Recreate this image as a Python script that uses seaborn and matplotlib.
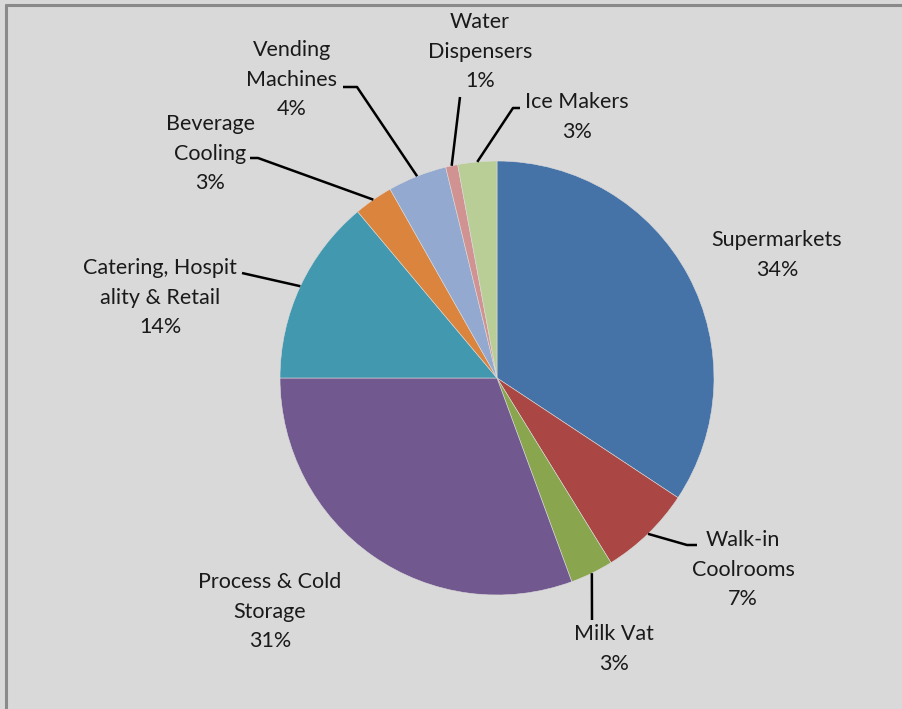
import matplotlib
matplotlib.use("Agg")
import matplotlib.pyplot as plt
import seaborn as sns
import numpy as np

categories = ["Supermarkets", "Walk-in\nCoolrooms", "Milk Vat", "Process & Cold\nStorage",
              "Catering, Hospit\nality & Retail", "Beverage\nCooling", "Vending\nMachines",
              "Water\nDispensers", "Ice Makers"]
values = [34.3, 6.9, 3.2, 30.6, 13.9, 2.9, 4.4, 0.9, 2.9]
pct_labels = ["34%", "7%", "3%", "31%", "14%", "3%", "4%", "1%", "3%"]
colors = ["#4572A7", "#AA4643", "#89A54E", "#71588F", "#4198AF",
          "#DB843D", "#93A9CF", "#D19392", "#B9CD96"]

sns.set_theme(style="white")
plt.rcParams['font.family'] = ['Lato', 'DejaVu Sans']

W, H = 902, 709
fig = plt.figure(figsize=(W / 100, H / 100), dpi=100, facecolor="#d9d9d9")
ax = fig.add_axes([0, 0, 1, 1])
ax.set_facecolor("#d9d9d9")

cx, cy, R = 497, H - 378, 217
palette = sns.color_palette(colors)
wedges, _ = ax.pie(values, colors=palette, startangle=90, counterclock=False,
                   center=(cx, cy), radius=R, frame=True,
                   wedgeprops=dict(linewidth=0.4, edgecolor="#dcdcdc"))
ax.set_xlim(0, W)
ax.set_ylim(0, H)
ax.set_aspect("equal")
ax.axis("off")

# label layout: (text center x, first line center y in px), elbow points in px (or None)
layout = {
    0: dict(tx=777, ty=240, elbow=None),
    1: dict(tx=743, ty=540, elbow=[(687, 545), (697, 545)]),
    2: dict(tx=614, ty=634, elbow=[(592, 620)]),
    3: dict(tx=270, ty=582, elbow=None),
    4: dict(tx=160, ty=268, elbow=[(242, 273)]),
    5: dict(tx=210, ty=124, elbow=[(258, 158), (250, 158)]),
    6: dict(tx=292, ty=50, elbow=[(357, 87), (343, 87)]),
    7: dict(tx=480, ty=22, elbow=[(460, 97)]),
    8: dict(tx=577, ty=102, elbow=[(513, 108), (520, 108)]),
}
line_h = 29.5
fs = 15.5
for i, w in enumerate(wedges):
    lay = layout[i]
    lines = categories[i].split("\n") + [pct_labels[i]]
    for k, s in enumerate(lines):
        ax.text(lay["tx"], H - (lay["ty"] + k * line_h), s, ha="center", va="center",
                fontsize=fs, color="#1a1a1a")
    if lay["elbow"]:
        mid = np.deg2rad((w.theta1 + w.theta2) / 2)
        x0 = cx + R * np.cos(mid)
        y0 = cy + R * np.sin(mid)
        xs = [x0] + [p[0] for p in lay["elbow"]]
        ys = [y0] + [H - p[1] for p in lay["elbow"]]
        ax.plot(xs, ys, color="black", linewidth=1.8, solid_capstyle="butt")

# frame border (left and top)
ax.plot([5.5, 5.5], [0, H - 5], color="#8a8a8a", linewidth=2.2)
ax.plot([5.5, W], [H - 5, H - 5], color="#8a8a8a", linewidth=2.2)

fig.savefig("out.png", dpi=100, facecolor="#d9d9d9")
